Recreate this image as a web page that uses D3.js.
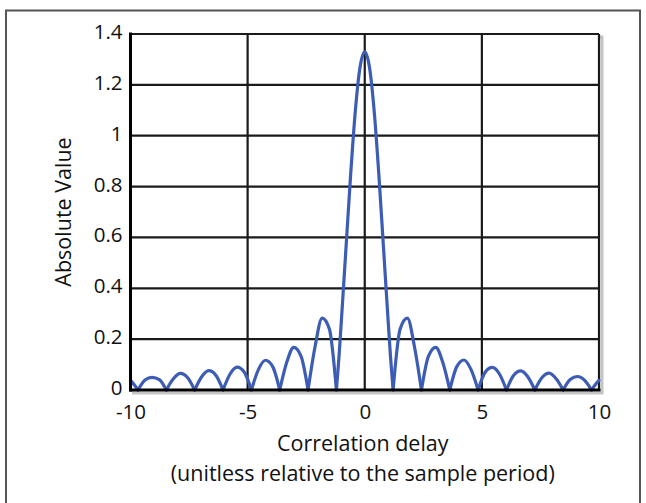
<!DOCTYPE html>
<html>
<head>
<meta charset="utf-8">
<script src="https://cdn.jsdelivr.net/npm/d3@7/dist/d3.min.js"></script>
<style>
  html, body { margin: 0; padding: 0; background: #fff; }
  svg { display: block; }
  text { font-family: "Open Sans", "Noto Sans", sans-serif; fill: #111; }
</style>
</head>
<body>
<svg id="chart" width="646" height="503"></svg>
<script>
// ---- data ----
const delay = [
  -10, -9.84, -9.68, -9.38, -9.08, -8.77, -8.47, -8.17, -7.87, -7.56, -7.26,
  -6.96, -6.66, -6.35, -6.05, -5.75, -5.45, -5.14, -4.84, -4.54, -4.24, -3.93, -3.63,
  -3.33, -3.03, -2.72, -2.42, -2.12, -1.82, -1.51, -1.21,
  -1.1, -1.0, -0.8, -0.6, -0.4, -0.2, 0, 0.2, 0.4, 0.6, 0.8, 1.0, 1.1,
  1.21, 1.51, 1.82, 2.12, 2.42, 2.72, 3.03, 3.33, 3.63, 3.93, 4.24, 4.54, 4.84,
  5.14, 5.45, 5.75, 6.05, 6.35, 6.66, 6.96, 7.26, 7.56, 7.87, 8.17, 8.47,
  8.77, 9.08, 9.38, 9.68, 9.84, 10
];
const absValue = [
  0.038, 0.021, 0, 0.039, 0.050, 0.041, 0, 0.044, 0.065, 0.048, 0,
  0.052, 0.076, 0.057, 0, 0.063, 0.090, 0.070, 0, 0.080, 0.117, 0.092, 0,
  0.109, 0.168, 0.133, 0, 0.171, 0.283, 0.240, 0,
  0.13, 0.27, 0.56, 0.85, 1.10, 1.27, 1.33, 1.27, 1.10, 0.85, 0.56, 0.27, 0.13,
  0, 0.240, 0.283, 0.171, 0, 0.133, 0.168, 0.109, 0, 0.092, 0.118, 0.080, 0,
  0.070, 0.089, 0.063, 0, 0.057, 0.075, 0.052, 0, 0.048, 0.066, 0.044, 0,
  0.041, 0.053, 0.039, 0, 0.021, 0.038
];
const xTicks = [-10, -5, 0, 5, 10];
const yTicks = [0, 0.2, 0.4, 0.6, 0.8, 1, 1.2, 1.4];
const xTitle = "Correlation delay";
const xSubtitle = "(unitless relative to the sample period)";
const yTitle = "Absolute Value";

// ---- layout ----
const svg = d3.select("#chart");
const plot = { left: 130.5, right: 599, top: 34, bottom: 390 };

// outer frame
svg.append("rect")
  .attr("x", 6).attr("y", 10.5).attr("width", 634).attr("height", 520)
  .attr("fill", "none").attr("stroke", "#555").attr("stroke-width", 2);

const x = d3.scaleLinear().domain([-10, 10]).range([plot.left, plot.right]);
const y = d3.scaleLinear().domain([0, 1.4]).range([plot.bottom, plot.top]);

// soft shadow on right/bottom of plot frame
svg.append("rect")
  .attr("x", plot.left + 3).attr("y", plot.top + 3)
  .attr("width", plot.right - plot.left).attr("height", plot.bottom - plot.top)
  .attr("fill", "none").attr("stroke", "#c4c4c4").attr("stroke-width", 3);
svg.append("rect")
  .attr("x", plot.left).attr("y", plot.top)
  .attr("width", plot.right - plot.left).attr("height", plot.bottom - plot.top)
  .attr("fill", "#fff");

// grid
const g = svg.append("g");
g.selectAll("line.h").data(yTicks).join("line")
  .attr("class", "h")
  .attr("x1", plot.left).attr("x2", plot.right)
  .attr("y1", d => y(d)).attr("y2", d => y(d))
  .attr("stroke", "#1a1a1a").attr("stroke-width", 2.2);
g.selectAll("line.v").data(xTicks).join("line")
  .attr("class", "v")
  .attr("y1", plot.top).attr("y2", plot.bottom)
  .attr("x1", d => x(d)).attr("x2", d => x(d))
  .attr("stroke", "#1a1a1a").attr("stroke-width", 2.2);

// curve: split into lobes at the zeros so each null is a sharp cusp
const pts = delay.map((d, i) => [d, absValue[i]]);
const lobes = [];
let cur = [pts[0]];
for (let i = 1; i < pts.length; i++) {
  cur.push(pts[i]);
  if (pts[i][1] === 0) { lobes.push(cur); cur = [pts[i]]; }
}
if (cur.length > 1) lobes.push(cur);

const line = d3.line().x(d => x(d[0])).y(d => y(d[1])).curve(d3.curveMonotoneX);
svg.append("g").selectAll("path").data(lobes).join("path")
  .attr("d", line)
  .attr("fill", "none").attr("stroke", "#3d5cb4").attr("stroke-width", 3.2)
  .attr("stroke-linejoin", "round").attr("stroke-linecap", "round");

// axes (thicker left and bottom)
svg.append("line").attr("x1", plot.left).attr("x2", plot.left)
  .attr("y1", plot.top - 1.5).attr("y2", plot.bottom + 1.5)
  .attr("stroke", "#000").attr("stroke-width", 3);
svg.append("line").attr("x1", plot.left - 1.5).attr("x2", plot.right + 1.5)
  .attr("y1", plot.bottom).attr("y2", plot.bottom)
  .attr("stroke", "#000").attr("stroke-width", 3);

// tick labels via d3 axes
const xAxis = d3.axisBottom(x).tickValues(xTicks).tickSize(0).tickPadding(0)
  .tickFormat(d => String(d));
const xa = svg.append("g").attr("transform", `translate(0,${plot.bottom})`).call(xAxis);
xa.select(".domain").remove();
xa.selectAll("text").attr("font-size", 20.5).attr("dy", 0).attr("y", 29)
  .attr("font-family", "Open Sans").attr("fill", "#111");

const yAxis = d3.axisLeft(y).tickValues(yTicks).tickSize(0).tickPadding(0)
  .tickFormat(d => String(d));
const ya = svg.append("g").attr("transform", `translate(${plot.left - 8},0)`).call(yAxis);
ya.select(".domain").remove();
ya.selectAll("text").attr("font-size", 20.5).attr("dy", "0.32em").attr("y", -2)
  .attr("font-family", "Open Sans").attr("fill", "#111");

// titles
const cx = (plot.left + plot.right) / 2 - 2;
svg.append("text").attr("x", cx).attr("y", 451)
  .attr("text-anchor", "middle").attr("font-size", 21.5).text(xTitle);
svg.append("text").attr("x", cx).attr("y", 481)
  .attr("text-anchor", "middle").attr("font-size", 21.5).text(xSubtitle);
svg.append("text")
  .attr("transform", `translate(71,${(plot.top + plot.bottom) / 2}) rotate(-90)`)
  .attr("text-anchor", "middle").attr("font-size", 21.5).text(yTitle);
</script>
</body>
</html>
